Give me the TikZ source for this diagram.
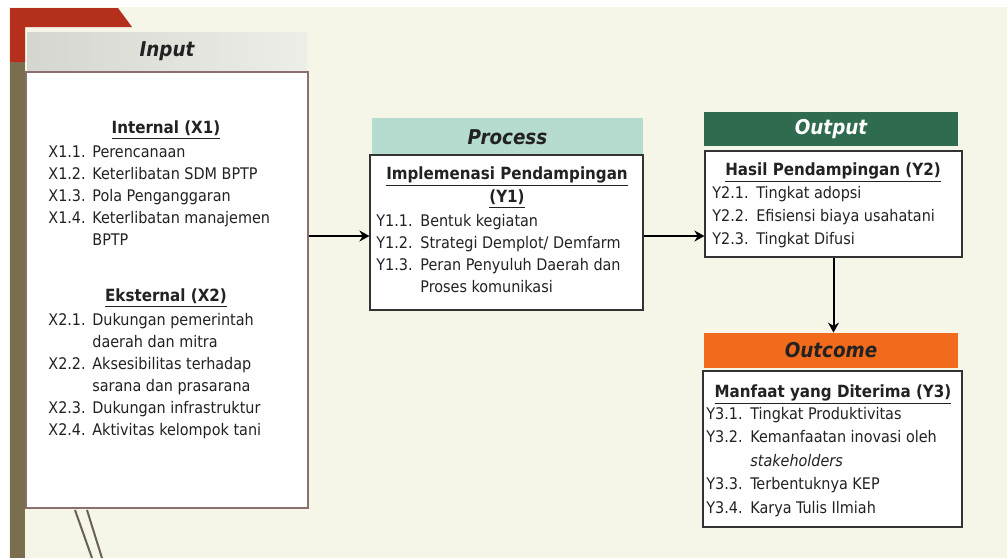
\documentclass[tikz,border=0pt]{standalone}
\usepackage{fontspec}
\setmainfont{DejaVu Sans Condensed}
\usetikzlibrary{arrows.meta,fit}
\definecolor{bgc}{HTML}{F5F5E8}
\definecolor{redc}{HTML}{B5301C}
\definecolor{olivec}{HTML}{7A6E4E}
\definecolor{inheadL}{HTML}{D6D6D0}
\definecolor{inheadR}{HTML}{EEEEE8}
\definecolor{prochead}{HTML}{B5DCCF}
\definecolor{outhead}{HTML}{2F6B4F}
\definecolor{ochead}{HTML}{F26B1D}
\definecolor{inborder}{HTML}{8B6F6F}
\definecolor{boxborder}{HTML}{333333}
\definecolor{txt}{HTML}{222222}
\definecolor{decoline}{HTML}{6B6055}
\newcommand\lab[1]{\makebox[22pt][l]{#1}}
\begin{document}
\begin{tikzpicture}[x=0.5pt,y=-0.5pt,
  bx/.style={draw=#1, fill=white, line width=0.6pt, inner sep=0pt},
  hdbox/.style={fill=#1, draw=none, inner sep=0pt},
  ttl/.style={font=\fontsize{10.2}{12}\selectfont\bfseries\itshape, inner sep=0pt},
  hd/.style={font=\fontsize{8.4}{11}\selectfont\bfseries, inner sep=0pt, anchor=base, text=txt},
  lst/.style={font=\fontsize{8}{#1}\selectfont, inner sep=0pt, anchor=base west, text=txt},
  arr/.style={-{Stealth[length=5pt,width=5.5pt]}, line width=1pt}]
\useasboundingbox (0,0) rectangle (1007,558);
\fill[bgc] (0,0) rectangle (1007,558);
\fill[white] (0,0) rectangle (1007,7);
\fill[white] (0,0) rectangle (9,558);
% decoration
\fill[olivec] (10,55) rectangle (25,558);
\fill[redc] (10,8) -- (118,8) -- (132,27) -- (25,27) -- (25,62) -- (10,62) -- cycle;
\draw[decoline, line width=1pt] (75,510) -- (92,558);
\draw[decoline, line width=1pt] (87,510) -- (102,558);
% headers
\node[hdbox=inheadL, left color=inheadL, right color=inheadR, fit={(27,32) (307,70)}] (inh) {};
\node[hdbox=prochead, fit={(372,118) (643,156)}] (prh) {};
\node[hdbox=outhead, fit={(704,112) (958,146)}] (ouh) {};
\node[hdbox=ochead, fit={(704,333) (958,368)}] (och) {};
\node[ttl, text=txt] (inht) at (inh.center) {Input};
\node[ttl, text=txt] (prht) at (prh.center) {Process};
\node[ttl, text=white] (ouht) at (ouh.center) {Output};
\node[ttl, text=txt] (ocht) at (och.center) {Outcome};
% boxes
\node[bx=inborder, fit={(26,72) (308,508)}] (inbox) {};
\node[bx=boxborder, fit={(370,155) (643,310)}] (prbox) {};
\node[bx=boxborder, fit={(705,151) (962,257)}] (oubox) {};
\node[bx=boxborder, fit={(703,371) (962,527)}] (ocbox) {};
% input texts
\node[hd] (h1) at (166,133) {\underline{Internal (X1)}};
\node[lst=11pt] (l1) at (48,157) {\begin{tabular}[t]{@{}l@{}}
\lab{X1.1.}Perencanaan\\
\lab{X1.2.}Keterlibatan SDM BPTP\\
\lab{X1.3.}Pola Penganggaran\\
\lab{X1.4.}Keterlibatan manajemen\\
\lab{}BPTP\end{tabular}};
\node[hd] (h2) at (166,301) {\underline{Eksternal (X2)}};
\node[lst=11pt] (l2) at (48,325) {\begin{tabular}[t]{@{}l@{}}
\lab{X2.1.}Dukungan pemerintah\\
\lab{}daerah dan mitra\\
\lab{X2.2.}Aksesibilitas terhadap\\
\lab{}sarana dan prasarana\\
\lab{X2.3.}Dukungan infrastruktur\\
\lab{X2.4.}Aktivitas kelompok tani\end{tabular}};
% process texts
\node[hd] (h3) at (507,179) {\underline{Implemenasi Pendampingan}};
\node[hd] (h3b) at (507,202) {\underline{(Y1)}};
\node[lst=11pt] (l3) at (376,226) {\begin{tabular}[t]{@{}l@{}}
\lab{Y1.1.}Bentuk kegiatan\\
\lab{Y1.2.}Strategi Demplot/ Demfarm\\
\lab{Y1.3.}Peran Penyuluh Daerah dan\\
\lab{}Proses komunikasi\end{tabular}};
% output texts
\node[hd] (h4) at (833,175) {\underline{Hasil Pendampingan (Y2)}};
\node[lst=11.5pt] (l4) at (712,198) {\begin{tabular}[t]{@{}l@{}}
\lab{Y2.1.}Tingkat adopsi\\
\lab{Y2.2.}Efisiensi biaya usahatani\\
\lab{Y2.3.}Tingkat Difusi\end{tabular}};
% outcome texts
\node[hd] (h5) at (833,397) {\underline{Manfaat yang Diterima (Y3)}};
\node[lst=11.75pt] (l5) at (706,419) {\begin{tabular}[t]{@{}l@{}}
\lab{Y3.1.}Tingkat Produktivitas\\
\lab{Y3.2.}Kemanfaatan inovasi oleh\\
\lab{}\textit{stakeholders}\\
\lab{Y3.3.}Terbentuknya KEP\\
\lab{Y3.4.}Karya Tulis Ilmiah\end{tabular}};
% connectors
\coordinate (ay) at (0,236);
\draw[arr] (inbox.east |- ay) -- (prbox.west |- ay);
\draw[arr] (prbox.east |- ay) -- (oubox.west |- ay);
\draw[arr] (oubox.south) -- (oubox.south |- och.north);
\end{tikzpicture}
\end{document}
